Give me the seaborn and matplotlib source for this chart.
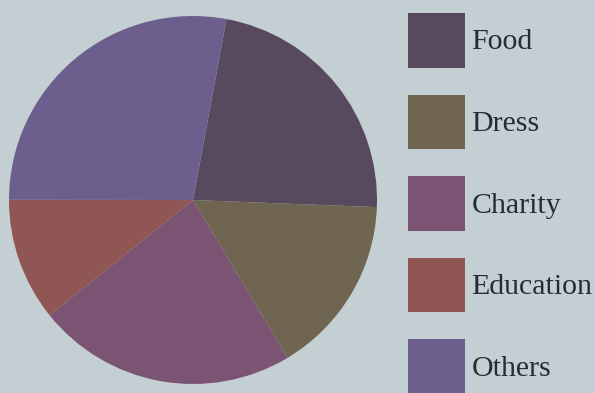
import matplotlib
matplotlib.use("Agg")
import matplotlib.pyplot as plt
import seaborn as sns
from matplotlib.patches import Patch

categories = ["Food", "Dress", "Charity", "Education", "Others"]
shares = [22.7, 15.8, 22.8, 10.8, 27.9]
colors = ["#574a5e", "#6f6550", "#7b5373", "#8f5653", "#6d5f8d"]

sns.set_theme(style="white")
plt.rcParams["font.family"] = ["Liberation Serif", "DejaVu Serif"]

bg = "#c3cfd3"
fig = plt.figure(figsize=(5.95, 3.93), dpi=100, facecolor=bg)
cx, cy, r = 193, 200, 184
ax = fig.add_axes([(cx - r) / 595, (393 - cy - r) / 393, 2 * r / 595, 2 * r / 393])
ax.set_facecolor(bg)
palette = sns.color_palette(colors)
ax.pie(shares, colors=palette, startangle=79.5, counterclock=False,
       wedgeprops=dict(linewidth=0))
ax.set_xlim(-1, 1)
ax.set_ylim(-1, 1)
ax.set_aspect("equal")
ax.axis("off")

handles = [Patch(facecolor=c, edgecolor="none") for c in palette]
leg = fig.legend(handles, categories, loc="upper left",
                 bbox_to_anchor=(408 / 595, 1 - 13 / 393),
                 frameon=False, fontsize=21.5, handlelength=1.9, handleheight=2.44,
                 labelspacing=0.9, handletextpad=0.22, borderaxespad=0, borderpad=0)
for t in leg.get_texts():
    t.set_color("#252c32")

fig.savefig("out.png", dpi=100, facecolor=bg)
